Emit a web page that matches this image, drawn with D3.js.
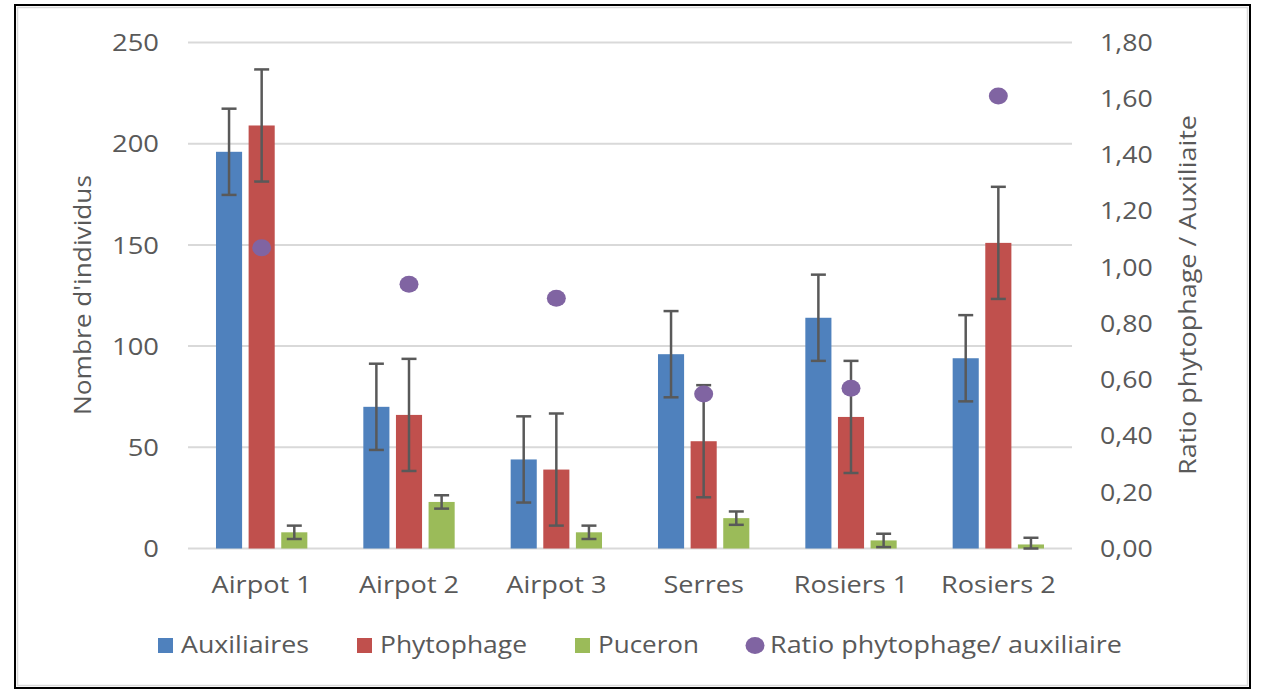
<!DOCTYPE html>
<html>
<head>
<meta charset="utf-8">
<script src="https://cdn.jsdelivr.net/npm/d3@7"></script>
<style>
html,body{margin:0;padding:0;background:#fff;}
svg{display:block;}
text{font-family:"Open Sans",sans-serif;fill:#595959;}
</style>
</head>
<body>
<svg id="chart" width="1261" height="692"></svg>
<script>
const categories = ["Airpot 1","Airpot 2","Airpot 3","Serres","Rosiers 1","Rosiers 2"];
const seriesNames = ["Auxiliaires","Phytophage","Puceron"];
const auxiliaires = [196, 70, 44, 96, 114, 94];
const phytophage  = [209, 66, 39, 53, 65, 151];
const puceron     = [8, 23, 8, 15, 4, 2];
const errAux  = [21.3, 21.3, 21.3, 21.3, 21.3, 21.3];
const errPhy  = [27.7, 27.7, 27.7, 27.7, 27.7, 27.7];
const errPuc  = [3.3, 3.3, 3.3, 3.3, 3.3, 3.3];
const ratio   = [1.07, 0.94, 0.89, 0.55, 0.57, 1.61];
const leftTicks  = [0, 50, 100, 150, 200, 250];
const rightTicks = [0, 0.2, 0.4, 0.6, 0.8, 1.0, 1.2, 1.4, 1.6, 1.8];
const ratioName = "Ratio phytophage/ auxiliaire";
const yTitle = "Nombre d'individus";
const y2Title = "Ratio phytophage / Auxiliaite";

const colors = {"Auxiliaires":"#4F81BD","Phytophage":"#C0504D","Puceron":"#9BBB59","ratio":"#8064A2"};
const values = {"Auxiliaires":auxiliaires,"Phytophage":phytophage,"Puceron":puceron};
const errs = {"Auxiliaires":errAux,"Phytophage":errPhy,"Puceron":errPuc};

const svg = d3.select("#chart");
const plot = {left:188, right:1072, top:42.5, bottom:548.5};

const x0 = d3.scaleBand().domain(categories).range([plot.left, plot.right]).paddingInner(0.38).paddingOuter(0.19);
const x1 = d3.scaleBand().domain(seriesNames).range([0, x0.bandwidth()]).paddingInner(0.2);
const y = d3.scaleLinear().domain([0,250]).range([plot.bottom, plot.top]);
const y2 = d3.scaleLinear().domain([0,1.8]).range([plot.bottom, plot.top]);
const loc = d3.formatLocale({decimal:",", thousands:" ", grouping:[3], currency:["","€"]});
const fmt2 = loc.format(".2f");

function stretch(sel, k){
  sel.each(function(){
    const w = this.getComputedTextLength();
    d3.select(this).attr("textLength", w*k).attr("lengthAdjust","spacingAndGlyphs");
  });
}

// border
svg.append("rect").attr("x",15).attr("y",5).attr("width",1235).attr("height",683)
  .attr("fill","#fff").attr("stroke","#000").attr("stroke-width",2);
svg.append("rect").attr("x",17.5).attr("y",7.5).attr("width",1230).attr("height",678)
  .attr("fill","none").attr("stroke","#d9d9d9").attr("stroke-width",1.5);

// gridlines
svg.append("g").selectAll("line").data(leftTicks).join("line")
  .attr("x1",plot.left).attr("x2",plot.right)
  .attr("y1",d=>y(d)).attr("y2",d=>y(d))
  .attr("stroke","#d9d9d9").attr("stroke-width",2);

// left axis
const gL = svg.append("g").attr("transform",`translate(${plot.left},0)`)
  .call(d3.axisLeft(y).tickValues(leftTicks).tickSize(0).tickPadding(29).tickFormat(d3.format("d")));
gL.select(".domain").remove();
gL.selectAll("text").style("font-size","24px").attr("fill","#595959").attr("dy","0.34em");
stretch(gL.selectAll("text"), 1.14);

// right axis
const gR = svg.append("g").attr("transform",`translate(${plot.right},0)`)
  .call(d3.axisRight(y2).tickValues(rightTicks).tickSize(0).tickPadding(28).tickFormat(fmt2));
gR.select(".domain").remove();
gR.selectAll("text").style("font-size","23px").attr("fill","#595959").attr("dy","0.34em");
stretch(gR.selectAll("text"), 1.16);

// bottom axis
const gB = svg.append("g").attr("transform",`translate(0,${plot.bottom})`)
  .call(d3.axisBottom(x0).tickSize(0).tickPadding(27));
gB.select(".domain").remove();
gB.selectAll("text").style("font-size","24px").attr("fill","#595959").attr("dy","0.71em");
stretch(gB.selectAll("text"), 1.13);

// bars
const groups = svg.append("g").selectAll("g").data(categories).join("g")
  .attr("transform",d=>`translate(${x0(d)},0)`);
seriesNames.forEach(s=>{
  groups.append("rect")
    .attr("x",x1(s)).attr("width",x1.bandwidth())
    .attr("y",(d,i)=>y(values[s][i]))
    .attr("height",(d,i)=>y(0)-y(values[s][i]))
    .attr("fill",colors[s]);
});
// error bars
seriesNames.forEach(s=>{
  groups.each(function(d,i){
    const g = d3.select(this);
    const cx = x1(s)+x1.bandwidth()/2;
    const v = values[s][i], e = errs[s][i];
    const yt = y(v+e), yb = y(Math.max(v-e,0));
    g.append("line").attr("x1",cx).attr("x2",cx).attr("y1",yt).attr("y2",yb)
      .attr("stroke","#595959").attr("stroke-width",2.5);
    [yt,yb].forEach(yy=>g.append("line").attr("x1",cx-7.5).attr("x2",cx+7.5).attr("y1",yy).attr("y2",yy)
      .attr("stroke","#595959").attr("stroke-width",2.5));
  });
});

// ratio points
svg.append("g").selectAll("ellipse").data(categories).join("ellipse")
  .attr("cx",d=>x0(d)+x0.bandwidth()/2)
  .attr("cy",(d,i)=>y2(ratio[i]))
  .attr("rx",9.5).attr("ry",8.5)
  .attr("fill",colors.ratio);

// axis titles
svg.append("text").attr("transform","translate(91,295) rotate(-90)")
  .attr("text-anchor","middle").style("font-size","24px")
  .attr("textLength",240).attr("lengthAdjust","spacingAndGlyphs").text(yTitle);
svg.append("text").attr("transform","translate(1196,295) rotate(-90)")
  .attr("text-anchor","middle").style("font-size","24px")
  .attr("textLength",360).attr("lengthAdjust","spacingAndGlyphs").text(y2Title);

// legend
const legendItems = [
  {name:"Auxiliaires", color:colors.Auxiliaires, shape:"rect", x:158, tx:181, tw:128},
  {name:"Phytophage", color:colors.Phytophage, shape:"rect", x:357, tx:380, tw:147},
  {name:"Puceron", color:colors.Puceron, shape:"rect", x:575, tx:598, tw:101},
  {name:ratioName, color:colors.ratio, shape:"circle", x:746, tx:770, tw:352}
];
const lg = svg.append("g");
legendItems.forEach(it=>{
  if(it.shape==="rect"){
    lg.append("rect").attr("x",it.x).attr("y",638).attr("width",15).attr("height",15).attr("fill",it.color);
  } else {
    lg.append("ellipse").attr("cx",it.x+9).attr("cy",645.5).attr("rx",9.5).attr("ry",8.5).attr("fill",it.color);
  }
  lg.append("text").attr("x",it.tx).attr("y",653).style("font-size","23px")
    .attr("textLength",it.tw).attr("lengthAdjust","spacingAndGlyphs").text(it.name);
});
</script>
</body>
</html>
